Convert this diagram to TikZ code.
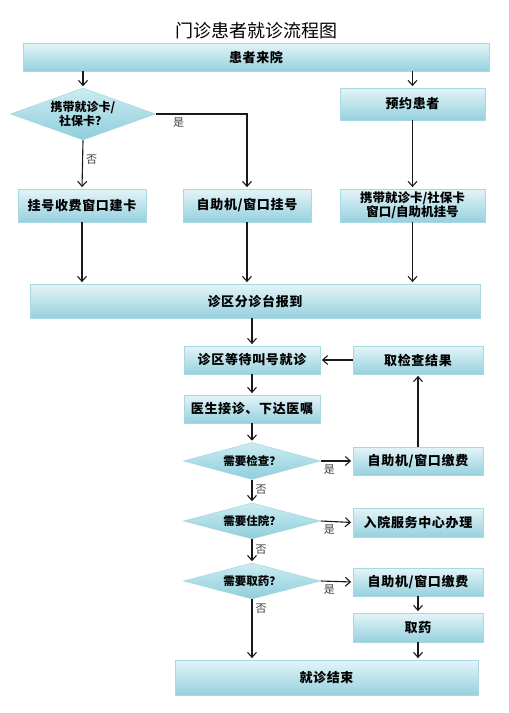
\documentclass[tikz,border=0pt]{standalone}
\usepackage{fontspec}
\setmainfont{Noto Sans CJK SC}
\usepackage{tikz}
\usetikzlibrary{shapes.geometric,arrows.meta,shadows}
\definecolor{boxlight}{RGB}{228,244,248}
\definecolor{boxdark}{RGB}{150,209,222}
\definecolor{boxline}{RGB}{168,216,227}
\definecolor{dialight}{RGB}{205,236,242}
\definecolor{diadark}{RGB}{142,206,219}

\begin{document}
\begin{tikzpicture}[x=1pt, y=-1pt,
	every node/.style={font=\fontsize{13}{15.5}\selectfont\bfseries\addfontfeatures{LetterSpace=5}},
	box/.style={rectangle, draw=boxline, line width=0.8pt, top color=boxlight, bottom color=boxdark, inner sep=2pt, align=center,
		drop shadow={shadow xshift=1.3pt, shadow yshift=-1.3pt, fill=black!40, opacity=0.6}},
	decision/.style={diamond, aspect=2.8, draw=boxline, line width=0.6pt, top color=dialight, bottom color=diadark, inner sep=0pt, align=center,
		font=\fontsize{11.5}{13.5}\selectfont\bfseries},
	arr/.style={draw=black!90, line width=1.1pt, -{Straight Barb[length=5pt,width=9pt]}, shorten >=1.5pt},
	lbl/.style={font=\fontsize{11}{12}\selectfont, text=black!75, inner sep=3pt}]
	\useasboundingbox (0,0) rectangle (509,713);
	\node[font=\fontsize{18}{21}\selectfont] (title) at (256,31) {门诊患者就诊流程图};
	\node[box, minimum width=466pt, minimum height=28pt] (come) at (256,57) {患者来院};
	\node[decision, minimum width=145pt, minimum height=52pt, font=\fontsize{12}{14}\selectfont\bfseries] (dia1) at (83,114) {携带就诊卡/\\社保卡？};
	\node[box, minimum width=145pt, minimum height=32pt] (appt) at (412.5,104) {预约患者};
	\node[box, minimum width=128pt, minimum height=33pt] (card) at (82,205.5) {挂号收费窗口建卡};
	\node[box, minimum width=128pt, minimum height=33pt] (self1) at (247,205.5) {自助机/窗口挂号};
	\node[box, minimum width=145pt, minimum height=33pt, font=\fontsize{12.5}{14}\selectfont\bfseries] (reg3) at (412.5,205.5) {携带就诊卡/社保卡\\窗口/自助机挂号};
	\node[box, minimum width=450pt, minimum height=34pt] (triage) at (255,301) {诊区分诊台报到};
	\node[box, minimum width=136pt, minimum height=28pt] (wait) at (252,360) {诊区等待叫号就诊};
	\node[box, minimum width=130pt, minimum height=28pt] (result) at (418,360) {取检查结果};
	\node[box, minimum width=136pt, minimum height=28pt] (doctor) at (252,409) {医生接诊、下达医嘱};
	\node[decision, minimum width=137pt, minimum height=37pt] (chk) at (252,461) {需要检查？};
	\node[box, minimum width=130pt, minimum height=28pt] (pay1) at (418,461) {自助机/窗口缴费};
	\node[decision, minimum width=137pt, minimum height=36pt] (hosp) at (252,521) {需要住院？};
	\node[box, minimum width=130pt, minimum height=29pt] (admit) at (418,522.5) {入院服务中心办理};
	\node[decision, minimum width=137pt, minimum height=36pt] (med) at (252,581) {需要取药？};
	\node[box, minimum width=130pt, minimum height=28pt] (pay2) at (418,582) {自助机/窗口缴费};
	\node[box, minimum width=130pt, minimum height=29pt] (drug) at (418,627.5) {取药};
	\node[box, minimum width=303pt, minimum height=35pt] (done) at (326.5,677.5) {就诊结束};
	\draw[arr] (dia1.north |- come.south) -- (dia1.north);
	\draw[arr] (appt.north |- come.south) -- (appt.north);
	\draw[arr] (dia1.east) -| node[lbl, pos=0.125, below] {是} (self1.north);
	\draw[arr] (dia1.south) -- node[lbl, pos=0.39, right] {否} (card.north);
	\draw[arr] (appt.south) -- (reg3.north);
	\foreach \n in {card, self1, reg3}
		\draw[arr] (\n.south) -- (\n.south |- triage.north);
	\draw[arr] (wait.north |- triage.south) -- (wait.north);
	\draw[arr] (result.west) -- (wait.east);
	\draw[arr] (wait.south) -- (doctor.north);
	\draw[arr] (doctor.south) -- (chk.north);
	\draw[arr] (chk.east) -- node[lbl, pos=0.27, below] {是} (pay1.west);
	\draw[arr] (pay1.north) -- (result.south);
	\draw[arr] (chk.south) -- node[lbl, pos=0.42, right] {否} (hosp.north);
	\draw[arr] (hosp.east) -- node[lbl, pos=0.27, below] {是} (admit.west);
	\draw[arr] (hosp.south) -- node[lbl, pos=0.42, right] {否} (med.north);
	\draw[arr] (med.east) -- node[lbl, pos=0.27, below] {是} (pay2.west);
	\draw[arr] (pay2.south) -- (drug.north);
	\draw[arr] (drug.south) -- (drug.south |- done.north);
	\draw[arr] (med.south) -- node[lbl, pos=0.16, right] {否} (med.south |- done.north);
\end{tikzpicture}
\end{document}
